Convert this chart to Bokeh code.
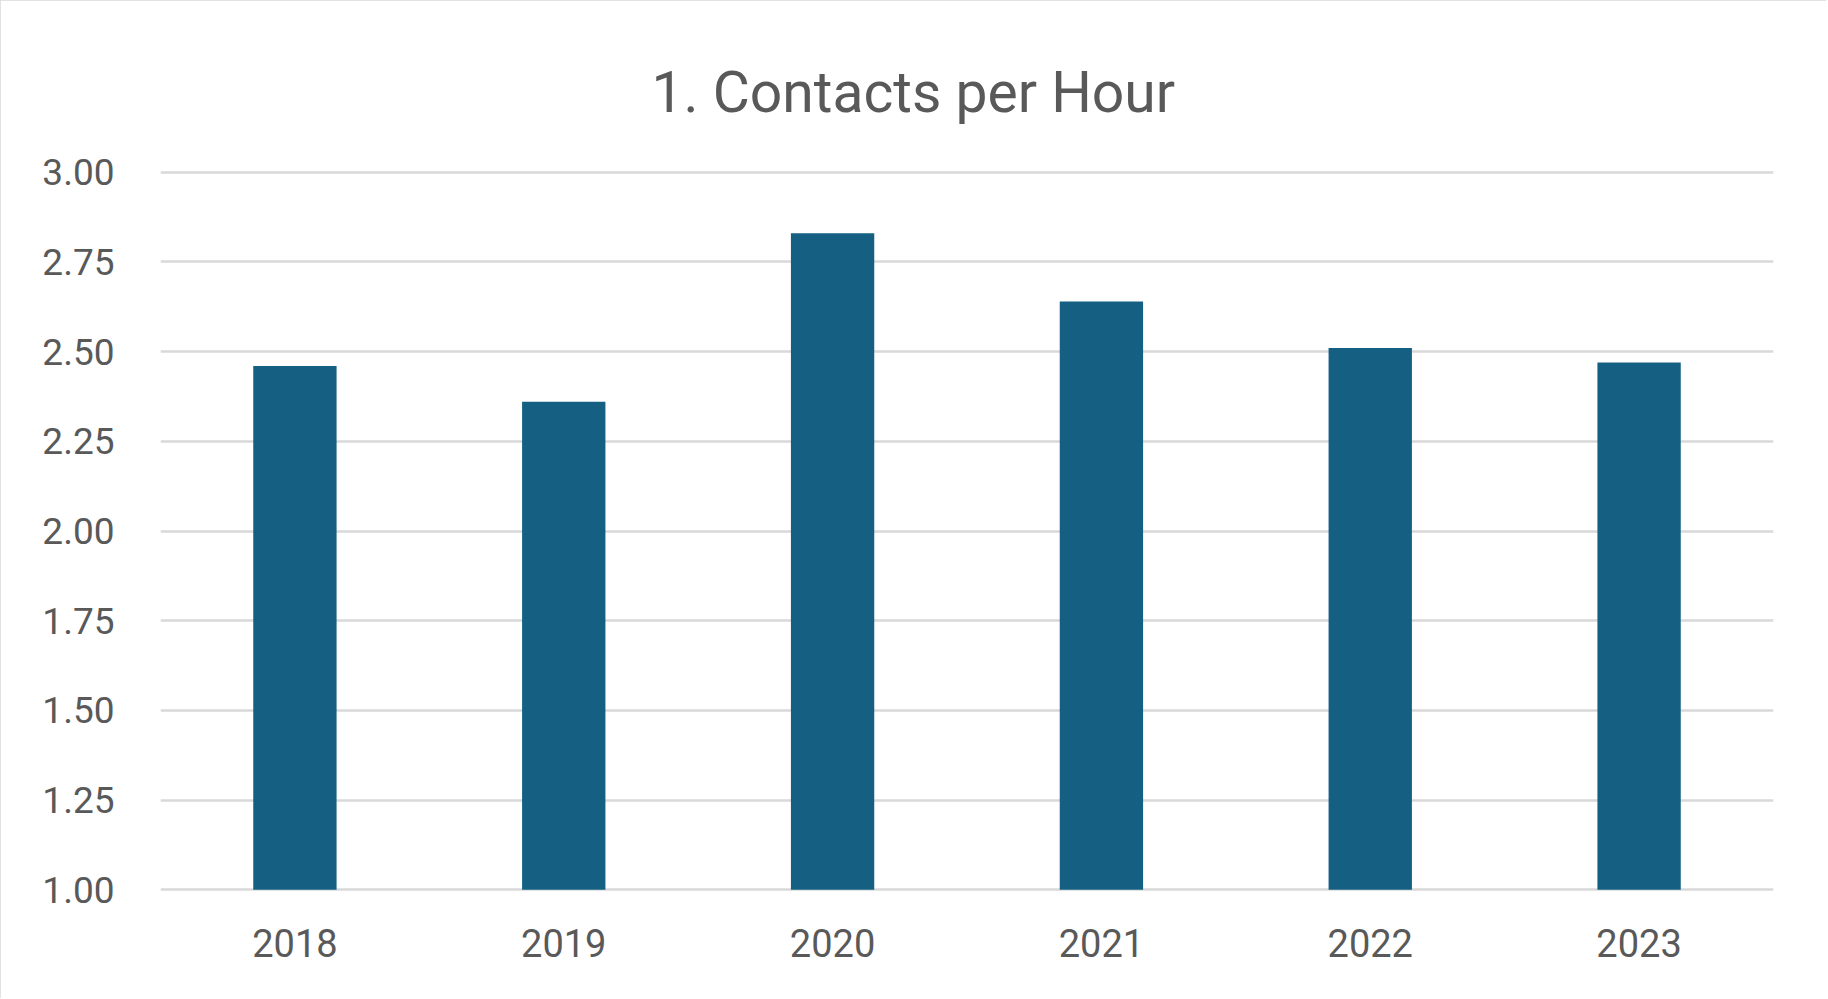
from bokeh.plotting import figure
from bokeh.models import ColumnDataSource, FixedTicker, NumeralTickFormatter
from bokeh.embed import file_html
from bokeh.resources import INLINE

# data
years = ['2018', '2019', '2020', '2021', '2022', '2023']
contacts_per_hour = [2.46, 2.36, 2.83, 2.64, 2.51, 2.47]
y_ticks = [1.00, 1.25, 1.50, 1.75, 2.00, 2.25, 2.50, 2.75, 3.00]
title = '1. Contacts per Hour'

BAR = '#156082'
TEXT = '#595959'
GRID = '#d9d9d9'
FONT = 'Roboto'

W, H = 1826, 998
LEFT, RIGHT, TOP, BOTTOM = 160, 53, 170, 107
pad = 0.005  # keeps the 1.00 and 3.00 grid lines inside the frame

source = ColumnDataSource(data=dict(year=years, value=contacts_per_hour))

p = figure(
    x_range=years,
    y_range=(y_ticks[0] - pad, y_ticks[-1] + pad),
    width=W,
    height=H,
    title=title,
    toolbar_location=None,
    output_backend='svg',
    min_border_left=LEFT,
    min_border_right=RIGHT,
    min_border_top=TOP,
    min_border_bottom=BOTTOM,
)
p.x_range.range_padding = 0

p.vbar(x='year', top='value', bottom=y_ticks[0], width=0.31, source=source,
       fill_color=BAR, line_color=None)

# title centred on the whole chart rather than on the frame
p.title.align = 'left'
p.title.vertical_align = 'top'
p.title.offset = 491
p.title.standoff = 85
p.title.text_font = FONT
p.title.text_font_size = '57px'
p.title.text_font_style = 'normal'
p.title.text_color = TEXT

p.outline_line_color = None
p.xgrid.grid_line_color = None
p.ygrid.grid_line_color = GRID
p.ygrid.grid_line_width = 2.5

p.yaxis.ticker = FixedTicker(ticks=y_ticks)
p.yaxis.formatter = NumeralTickFormatter(format='0.00')
for ax in (p.xaxis, p.yaxis):
    ax.axis_line_color = None
    ax.major_tick_line_color = None
    ax.minor_tick_line_color = None
    ax.major_label_text_font = FONT
    ax.major_label_text_color = TEXT
p.yaxis.major_label_text_font_size = '37px'
p.xaxis.major_label_text_font_size = '38px'
p.yaxis.major_label_standoff = 40
p.xaxis.major_label_standoff = 31

p.styles = {'outline': '2px solid #d9d9d9', 'outline-offset': '-2px'}

open('out.html', 'w').write(file_html(p, INLINE))
